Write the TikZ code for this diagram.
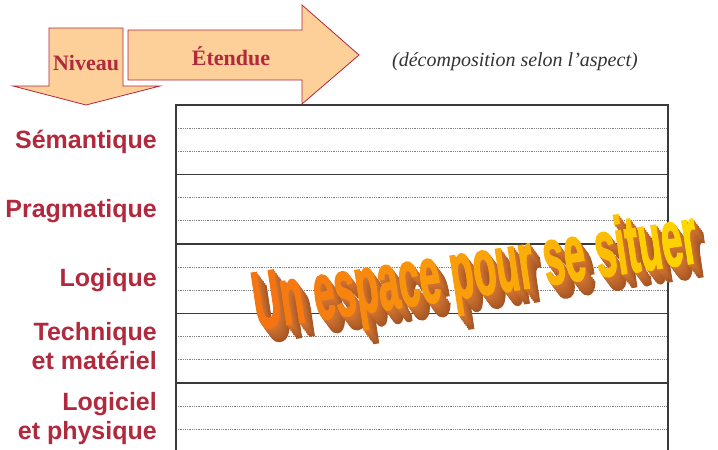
\documentclass[tikz,border=0pt]{standalone}
\usepackage{fontspec}
\setmainfont{Liberation Serif}
\setsansfont{Liberation Sans}
\newfontfamily\wafont[FakeBold=2.5]{Liberation Sans Bold}
\usepackage{tikz}

\definecolor{peach}{RGB}{253,208,154}
\definecolor{crimson}{RGB}{178,40,60}
\definecolor{gridgray}{RGB}{58,58,58}
\definecolor{waorange}{RGB}{244,105,20}
\definecolor{wayellow}{RGB}{255,216,0}
\definecolor{wabrown}{RGB}{140,68,28}
\definecolor{walight}{RGB}{212,118,50}

\tikzset{
  lbl/.style={font=\sffamily\bfseries\fontsize{25}{29}\selectfont,text=crimson,align=right,inner sep=0pt},
  arrowbox/.style={fill=peach,draw=crimson,line width=0.8pt,line join=miter},
  arrowtext/.style={font=\bfseries\fontsize{22}{26}\selectfont,text=crimson,inner sep=0pt},
  wordart/.style={font=\wafont\fontsize{81}{81}\selectfont,rotate=8.6,anchor=base west,inner sep=0pt}
}
\newcommand{\wl}[2]{{\color{wayellow!#1!waorange}#2}}
\newcommand{\situer}{\scalebox{0.465}[1]{Un espace pour se situer}}
\newcommand{\situercol}{\scalebox{0.465}[1]{\wl{10}{U}\wl{15}{n} \wl{19}{e}\wl{24}{s}\wl{29}{p}\wl{33}{a}\wl{38}{c}\wl{43}{e} \wl{48}{p}\wl{52}{o}\wl{57}{u}\wl{62}{r} \wl{67}{s}\wl{71}{e} \wl{76}{s}\wl{81}{i}\wl{86}{t}\wl{90}{u}\wl{95}{e}\wl{100}{r}}}

\begin{document}
\begin{tikzpicture}[x=1pt,y=-1pt]
\useasboundingbox (0,0) rectangle (718,450);
\clip (0,0) rectangle (718,450);

\foreach \r in {0,...,4}{
  \foreach \d in {1,2}
    \draw[gray,line width=0.8pt,densely dotted] (176,105+69.5*\r+23.17*\d) -- (668,105+69.5*\r+23.17*\d);
  \draw[gridgray,line width=1.6pt] (176,105+69.5*\r) -- (668,105+69.5*\r);
}
\draw[gridgray,line width=1.6pt] (176,460) -- (176,105) -- (668,105) -- (668,460);

\draw[arrowbox] (49,28) -- (123,28) -- (123,86) -- (160,86) -- (86,105) -- (13,86) -- (49,86) -- cycle;
\draw[arrowbox] (128,30) -- (302,30) -- (302,5) -- (359,55) -- (302,104) -- (302,80) -- (128,80) -- cycle;
\node[arrowtext] (niveau) at (86,63) {Niveau};
\node[arrowtext] (etendue) at (231,56) {Étendue};
\node[font=\itshape\fontsize{20}{24}\selectfont,text=black!80,anchor=base west,inner sep=0pt] (aspect) at (392,66) {(décomposition selon l’aspect)};

\node[lbl,anchor=base east] (semantique) at (157,148) {Sémantique};
\node[lbl,anchor=base east] (pragmatique) at (157,217) {Pragmatique};
\node[lbl,anchor=base east] (logique) at (157,286) {Logique};
\node[lbl,anchor=east] (technique) at (157,346) {Technique\\et matériel};
\node[lbl,anchor=east] (logiciel) at (157,419) {Logiciel\\et physique};

\foreach \k [evaluate=\k as \p using int(100-9*\k)] in {7,...,1}
  \node[wordart,text=walight!\p!wabrown] at (257+1.4*\k,329+1.9*\k) {\situer};
\node[wordart] (situer) at (257,329) {\situercol};
\end{tikzpicture}
\end{document}
